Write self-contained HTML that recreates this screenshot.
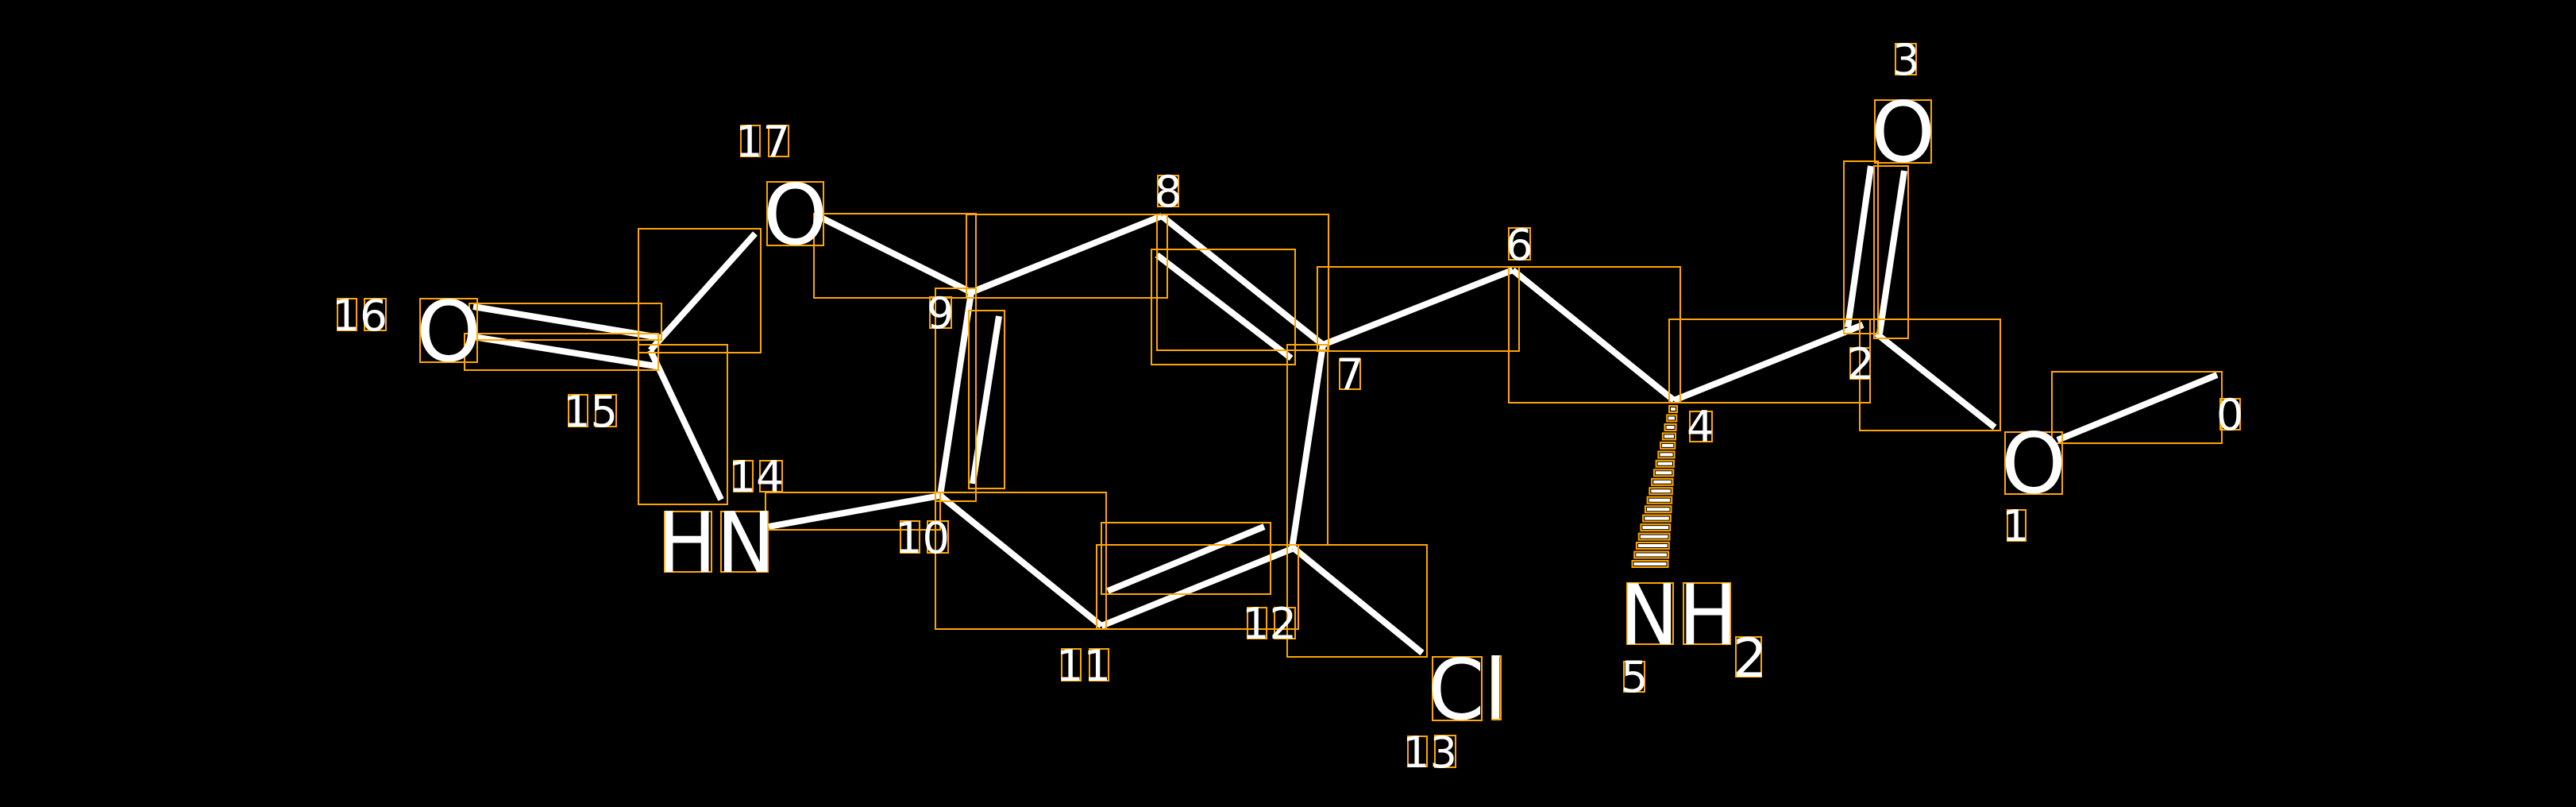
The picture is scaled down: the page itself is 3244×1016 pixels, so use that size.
<!DOCTYPE html>
<html><head><meta charset="utf-8"><style>
html,body{margin:0;padding:0;background:#000;}
svg{display:block;}
text{font-family:"DejaVu Sans","Liberation Sans",sans-serif;fill:#fff;}
</style></head><body>
<svg width="3244" height="1016" viewBox="0 0 3244 1016" xmlns="http://www.w3.org/2000/svg">
<rect width="3244" height="1016" fill="#000"/>
<g stroke="#fff" stroke-width="8" stroke-linecap="butt" fill="none">
<!-- O16 = C15 double -->
<line x1="596" y1="386" x2="831" y2="425"/>
<line x1="596" y1="424" x2="826" y2="461"/>
<!-- 15-17 -->
<line x1="819" y1="441" x2="951" y2="294"/>
<!-- 15-14 -->
<line x1="819" y1="441" x2="908" y2="629"/>
<!-- O17-9 -->
<line x1="1030" y1="272" x2="1223" y2="368"/>
<!-- 9-8 -->
<line x1="1223" y1="368" x2="1463" y2="272"/>
<!-- 8-7 double -->
<line x1="1463" y1="272" x2="1666" y2="434"/>
<line x1="1457" y1="321" x2="1626" y2="451"/>
<!-- 9-10 double -->
<line x1="1223" y1="368" x2="1184" y2="624"/>
<line x1="1258" y1="398" x2="1225" y2="609"/>
<!-- HN-10 -->
<line x1="968" y1="663" x2="1184" y2="624"/>
<!-- 10-11 -->
<line x1="1184" y1="624" x2="1387" y2="788"/>
<!-- 11-12 double -->
<line x1="1387" y1="788" x2="1627" y2="691"/>
<line x1="1395" y1="744" x2="1592" y2="663"/>
<!-- 7-12 -->
<line x1="1666" y1="434" x2="1627" y2="691"/>
<!-- 12-Cl -->
<line x1="1629" y1="690" x2="1791" y2="822"/>
<!-- 7-6 -->
<line x1="1666" y1="434" x2="1905" y2="340"/>
<!-- 6-4 -->
<line x1="1905" y1="340" x2="2108" y2="504"/>
<!-- 4-2 -->
<line x1="2108" y1="504" x2="2346" y2="409"/>
<!-- 2=O3 -->
<line x1="2356" y1="209" x2="2327" y2="412"/>
<line x1="2398" y1="215" x2="2367" y2="420"/>
<!-- 2-O1 -->
<line x1="2363" y1="420" x2="2512" y2="538"/>
<!-- O1-C0 -->
<line x1="2591" y1="554" x2="2792" y2="472"/>
</g>
<!-- hashed wedge -->
<g stroke="#fff" stroke-width="4">
<line x1="2104" y1="515" x2="2110" y2="515"/>
<line x1="2101" y1="526.5" x2="2109" y2="526.5"/>
<line x1="2098.5" y1="538" x2="2108.5" y2="538"/>
<line x1="2095.8" y1="549.4" x2="2108" y2="549.4"/>
<line x1="2093" y1="560.9" x2="2107.3" y2="560.9"/>
<line x1="2090.4" y1="572.4" x2="2106.6" y2="572.4"/>
<line x1="2087.6" y1="583.8" x2="2106" y2="583.8"/>
<line x1="2084.9" y1="595.3" x2="2105.3" y2="595.3"/>
<line x1="2082.2" y1="606.8" x2="2104.6" y2="606.8"/>
<line x1="2079.4" y1="618.2" x2="2103.8" y2="618.2"/>
<line x1="2076.6" y1="629.7" x2="2103.2" y2="629.7"/>
<line x1="2073.9" y1="641.2" x2="2102.5" y2="641.2"/>
<line x1="2071.2" y1="652.6" x2="2101.8" y2="652.6"/>
<line x1="2068.4" y1="664.1" x2="2101.2" y2="664.1"/>
<line x1="2065.7" y1="675.6" x2="2100.5" y2="675.6"/>
<line x1="2063" y1="687" x2="2099.8" y2="687"/>
<line x1="2060.2" y1="698.5" x2="2099.2" y2="698.5"/>
<line x1="2057.5" y1="710" x2="2098.5" y2="710"/>
</g>
<g stroke="#FFA500" stroke-width="2" fill="none">
<rect x="2102" y="511" width="10" height="8"/>
<rect x="2099.2" y="522.5" width="12.1" height="8"/>
<rect x="2096.5" y="534" width="14.1" height="8"/>
<rect x="2093.8" y="545.4" width="16.2" height="8"/>
<rect x="2091.1" y="556.9" width="18.2" height="8"/>
<rect x="2088.3" y="568.4" width="20.3" height="8"/>
<rect x="2085.6" y="579.8" width="22.4" height="8"/>
<rect x="2082.9" y="591.3" width="24.4" height="8"/>
<rect x="2080.1" y="602.8" width="26.5" height="8"/>
<rect x="2077.3" y="614.2" width="28.5" height="8"/>
<rect x="2074.6" y="625.7" width="30.6" height="8"/>
<rect x="2071.9" y="637.2" width="32.6" height="8"/>
<rect x="2069.1" y="648.6" width="34.7" height="8"/>
<rect x="2066.4" y="660.1" width="36.8" height="8"/>
<rect x="2063.7" y="671.6" width="38.8" height="8"/>
<rect x="2060.9" y="683" width="40.9" height="8"/>
<rect x="2058.2" y="694.5" width="42.9" height="8"/>
<rect x="2055.5" y="706" width="45" height="8"/>
<!-- bond boxes -->
<rect x="804" y="288" width="154" height="156"/>
<rect x="591" y="382" width="242" height="46"/>
<rect x="585" y="420" width="244" height="46"/>
<rect x="804" y="434" width="112" height="201"/>
<rect x="1025" y="269" width="204" height="106"/>
<rect x="1217" y="270" width="253" height="105"/>
<rect x="1457" y="270" width="216" height="171"/>
<rect x="1450" y="314" width="181" height="145"/>
<rect x="1178" y="363" width="51" height="268"/>
<rect x="1220" y="391" width="45" height="224"/>
<rect x="964" y="620" width="220" height="47"/>
<rect x="1178" y="620" width="215" height="172"/>
<rect x="1387" y="658" width="213" height="90"/>
<rect x="1381" y="686" width="254" height="106"/>
<rect x="1621" y="434" width="51" height="252"/>
<rect x="1621" y="686" width="176" height="141"/>
<rect x="1659" y="336" width="254" height="106"/>
<rect x="1900" y="336" width="216" height="171"/>
<rect x="2102" y="402" width="253" height="105"/>
<rect x="2322" y="203" width="43" height="217"/>
<rect x="2360" y="209" width="43" height="217"/>
<rect x="2342" y="402" width="177" height="140"/>
<rect x="2584" y="468" width="214" height="90"/>
<!-- glyph boxes -->
<rect x="966" y="229" width="71" height="80"/>
<rect x="529" y="376" width="72" height="80"/>
<rect x="837" y="644" width="59" height="76"/>
<rect x="908" y="644" width="59" height="76"/>
<rect x="2361" y="126" width="71" height="79"/>
<rect x="2525" y="544" width="72" height="78"/>
<rect x="2049" y="734" width="58" height="77"/>
<rect x="2120" y="734" width="59" height="77"/>
<rect x="2186" y="802" width="32" height="50"/>
<rect x="1804" y="827" width="62" height="80"/>
<rect x="1879" y="826" width="11" height="80"/>
<!-- digit boxes -->
<rect x="933" y="158" width="24" height="39"/><rect x="968" y="158" width="25" height="39"/>
<rect x="425" y="376" width="24" height="40"/><rect x="459" y="376" width="27" height="40"/>
<rect x="716" y="497" width="24" height="40"/><rect x="750" y="497" width="26" height="40"/>
<rect x="924" y="580" width="24" height="39"/><rect x="957" y="580" width="28" height="39"/>
<rect x="1134" y="656" width="24" height="40"/><rect x="1168" y="656" width="26" height="40"/>
<rect x="1171" y="374" width="27" height="39"/>
<rect x="1458" y="221" width="26" height="39"/>
<rect x="1337" y="817" width="24" height="40"/><rect x="1372" y="817" width="24" height="40"/>
<rect x="1571" y="765" width="24" height="39"/><rect x="1605" y="765" width="26" height="39"/>
<rect x="1773" y="927" width="24" height="38"/><rect x="1807" y="926" width="26" height="40"/>
<rect x="2796" y="502" width="25" height="39"/>
<rect x="2528" y="642" width="23" height="39"/>
<rect x="2330" y="438" width="25" height="39"/>
<rect x="2387" y="55" width="26" height="39"/>
<rect x="1900" y="287" width="27" height="40"/>
<rect x="1687" y="452" width="26" height="38"/>
<rect x="2128" y="518" width="28" height="38"/>
<rect x="2045" y="833" width="26" height="38"/>
</g>
<!-- atom letters -->
<g font-size="105">
<text x="961" y="307" textLength="81" lengthAdjust="spacingAndGlyphs">O</text>
<text x="524" y="454" textLength="82" lengthAdjust="spacingAndGlyphs">O</text>
<text x="2356" y="203" textLength="81" lengthAdjust="spacingAndGlyphs">O</text>
<text x="2520" y="620" textLength="82" lengthAdjust="spacingAndGlyphs">O</text>
<text x="828" y="720" textLength="148" lengthAdjust="spacingAndGlyphs">HN</text>
<text x="2040" y="811" textLength="148" lengthAdjust="spacingAndGlyphs">NH</text>
<text x="1798" y="905" textLength="100" lengthAdjust="spacingAndGlyphs">Cl</text>
</g>
<text x="2182" y="852" font-size="68">2</text>
<!-- index labels -->
<g font-size="54">
<text x="926" y="197" textLength="69" lengthAdjust="spacingAndGlyphs">17</text>
<text x="418" y="416" textLength="70" lengthAdjust="spacingAndGlyphs">16</text>
<text x="709" y="537" textLength="69" lengthAdjust="spacingAndGlyphs">15</text>
<text x="917" y="619" textLength="70" lengthAdjust="spacingAndGlyphs">14</text>
<text x="1127" y="696" textLength="69" lengthAdjust="spacingAndGlyphs">10</text>
<text x="1167" y="413">9</text>
<text x="1454" y="260">8</text>
<text x="1330" y="857" textLength="69" lengthAdjust="spacingAndGlyphs">11</text>
<text x="1564" y="804" textLength="69" lengthAdjust="spacingAndGlyphs">12</text>
<text x="1766" y="966" textLength="69" lengthAdjust="spacingAndGlyphs">13</text>
<text x="2791" y="541">0</text>
<text x="2521" y="681">1</text>
<text x="2326" y="477">2</text>
<text x="2383" y="94">3</text>
<text x="1896" y="327">6</text>
<text x="1683" y="490">7</text>
<text x="2124" y="556">4</text>
<text x="2041" y="871">5</text>
</g>
</svg>
</body></html>
